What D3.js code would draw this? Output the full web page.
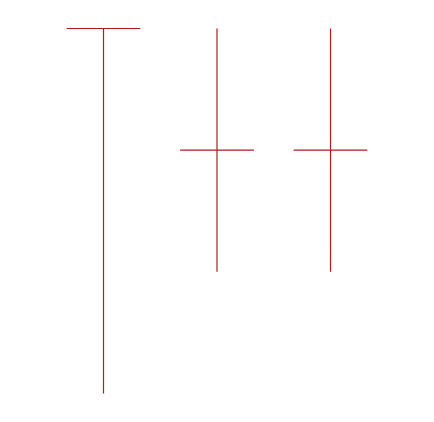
<!DOCTYPE html>
<html><head><meta charset="utf-8">
<script src="https://cdn.jsdelivr.net/npm/d3@7"></script>
<style>html,body{margin:0;padding:0;background:#fff;}</style>
</head><body>
<svg id="chart" width="434" height="422"></svg>
<script>
const categories = ["A", "B", "C"];
const openValues = [30, 20, 20];
const highValues = [30, 30, 30];
const lowValues = [0, 10, 10];
const closeValues = [30, 20, 20];

const data = categories.map((c, i) => ({
  cat: c, open: openValues[i], high: highValues[i], low: lowValues[i], close: closeValues[i]
}));

const svg = d3.select("#chart");
const x = d3.scaleBand().domain(categories).range([46.75, 387.25]).padding(0);
const y = d3.scaleLinear().domain([0, 30]).range([393.5, 28.5]);
const color = "#b11a22";
const tickW = x.bandwidth() * 0.65;

const g = svg.append("g");
const c = g.selectAll("g.c").data(data).join("g").attr("class", "c");
c.append("line")
  .attr("x1", d => x(d.cat) + x.bandwidth() / 2)
  .attr("x2", d => x(d.cat) + x.bandwidth() / 2)
  .attr("y1", d => y(d.high)).attr("y2", d => y(d.low))
  .attr("stroke", color).attr("stroke-width", 1.2);
c.append("line")
  .attr("x1", d => x(d.cat) + x.bandwidth() / 2 - tickW / 2)
  .attr("x2", d => x(d.cat) + x.bandwidth() / 2 + tickW / 2)
  .attr("y1", d => y(d.open)).attr("y2", d => y(d.close))
  .attr("stroke", color).attr("stroke-width", 1.2);
</script>
</body></html>
